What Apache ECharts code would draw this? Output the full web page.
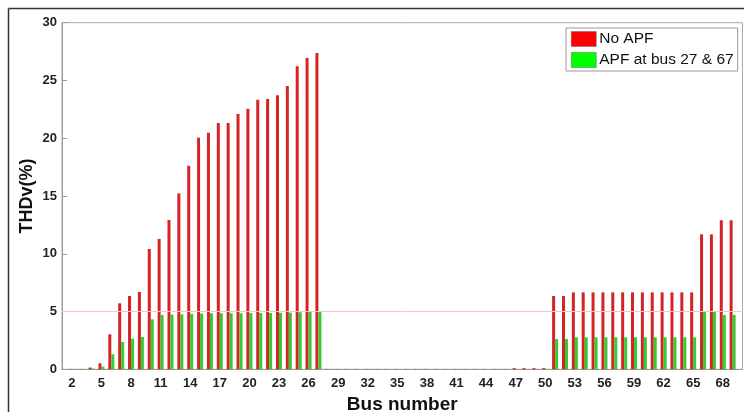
<!DOCTYPE html>
<html>
<head>
<meta charset="utf-8">
<script src="https://cdn.jsdelivr.net/npm/echarts@6/dist/echarts.min.js"></script>
<style>html,body{margin:0;padding:0;background:#fff}#c{width:744px;height:412px}</style>
</head>
<body>
<div id="c"></div>
<script>
var buses = [];
for (var b = 1; b <= 69; b++) buses.push(b);

var noAPF = [
  0, 0.03, 0.03, 0.15, 0.52, 3.03, 5.71, 6.34, 6.69, 10.41,
  11.28, 12.92, 15.23, 17.62, 20.05, 20.48, 21.32, 21.32, 22.10, 22.56,
  23.34, 23.40, 23.72, 24.52, 26.23, 26.95, 27.38, 0.03, 0.03, 0.03,
  0.03, 0.03, 0.03, 0.03, 0.03, 0.03, 0.03, 0.03, 0.03, 0.03,
  0.03, 0.03, 0.03, 0.03, 0.03, 0.03, 0.10, 0.10, 0.10, 0.10,
  6.34, 6.34, 6.66, 6.66, 6.66, 6.66, 6.66, 6.66, 6.66, 6.66,
  6.66, 6.66, 6.66, 6.66, 6.66, 11.68, 11.68, 12.90, 12.90
];
var withAPF = [
  0, 0.01, 0.01, 0.06, 0.23, 1.30, 2.36, 2.65, 2.80, 4.33,
  4.70, 4.73, 4.76, 4.79, 4.82, 4.85, 4.85, 4.85, 4.85, 4.87,
  4.87, 4.87, 4.89, 4.90, 4.94, 4.96, 4.98, 0.01, 0.01, 0.01,
  0.01, 0.01, 0.01, 0.01, 0.01, 0.01, 0.01, 0.01, 0.01, 0.01,
  0.01, 0.01, 0.01, 0.01, 0.01, 0.01, 0.03, 0.03, 0.03, 0.03,
  2.62, 2.62, 2.77, 2.77, 2.77, 2.77, 2.77, 2.77, 2.77, 2.77,
  2.77, 2.77, 2.77, 2.77, 2.77, 4.99, 4.99, 4.70, 4.70
];
var xTickLabels = [2, 5, 8, 11, 14, 17, 20, 23, 26, 29, 32, 35, 38, 41, 44, 47, 50, 53, 56, 59, 62, 65, 68];
var yTicks = [0, 5, 10, 15, 20, 25, 30];
var limitValue = 5;

var font = "'Liberation Sans', Arial, Helvetica, sans-serif";
var chart = echarts.init(document.getElementById('c'), null, {renderer: 'canvas'});

function pairs(arr) { return arr.map(function (v, i) { return [buses[i], v]; }); }

chart.setOption({
  animation: false,
  backgroundColor: '#fff',
  graphic: [
    {type: 'line', shape: {x1: 8.5, y1: 8.5, x2: 744, y2: 8.5}, style: {stroke: '#333', lineWidth: 1.5}},
    {type: 'line', shape: {x1: 8.5, y1: 8.5, x2: 8.5, y2: 412}, style: {stroke: '#333', lineWidth: 1.5}}
  ],
  grid: {left: 62, right: 1.5, top: 22.7, bottom: 42.7, outerBoundsMode: 'none', containLabel: false,
         show: true, borderColor: '#aaa', borderWidth: 1, backgroundColor: 'transparent'},
  legend: {
    orient: 'vertical', left: 566, top: 28,
    itemWidth: 25, itemHeight: 15, itemGap: 5, padding: [3, 4, 3, 5],
    borderColor: '#999', borderWidth: 1, backgroundColor: '#fff',
    icon: 'rect',
    textStyle: {fontFamily: font, fontSize: 15.5, color: '#111', padding: [0, 0, 0, -2]},
    data: [
      {name: 'No APF', itemStyle: {color: '#ff0000', borderColor: '#666', borderWidth: 0.5}},
      {name: 'APF at bus 27 & 67', itemStyle: {color: '#00ff00', borderColor: '#666', borderWidth: 0.5}}
    ]
  },
  xAxis: {
    type: 'value', min: 1, max: 70,
    name: 'Bus number', nameLocation: 'middle', nameGap: 23,
    nameTextStyle: {fontFamily: font, fontSize: 19, fontWeight: 'bold', color: '#111'},
    axisLine: {show: true, lineStyle: {color: '#999', width: 1}},
    axisTick: {show: false},
    splitLine: {show: false},
    axisLabel: {customValues: xTickLabels, fontFamily: font, fontSize: 13, fontWeight: 'bold', color: '#222', margin: 8}
  },
  yAxis: {
    type: 'value', min: 0, max: 30, interval: 5,
    name: 'THDv(%)', nameLocation: 'middle', nameGap: 26, nameMoveOverlap: false,
    nameTextStyle: {fontFamily: font, fontSize: 18, fontWeight: 'bold', color: '#111'},
    axisLine: {show: true, lineStyle: {color: '#999', width: 1}},
    axisTick: {show: true, inside: true, length: 5, lineStyle: {color: '#999'}},
    splitLine: {show: false},
    axisLabel: {customValues: yTicks, fontFamily: font, fontSize: 13, fontWeight: 'bold', color: '#222', margin: 5}
  },
  series: [
    {
      name: 'No APF', type: 'bar', barWidth: 3, barGap: '0%',
      itemStyle: {color: '#d42424'},
      data: pairs(noAPF),
      markLine: {
        silent: true, symbol: 'none', label: {show: false},
        lineStyle: {color: '#f8c4c4', width: 1, type: 'solid'},
        data: [{yAxis: limitValue}]
      }
    },
    {
      name: 'APF at bus 27 & 67', type: 'bar', barWidth: 3, barGap: '0%',
      itemStyle: {color: '#33cc33'},
      data: pairs(withAPF)
    }
  ]
});
</script>
</body>
</html>
